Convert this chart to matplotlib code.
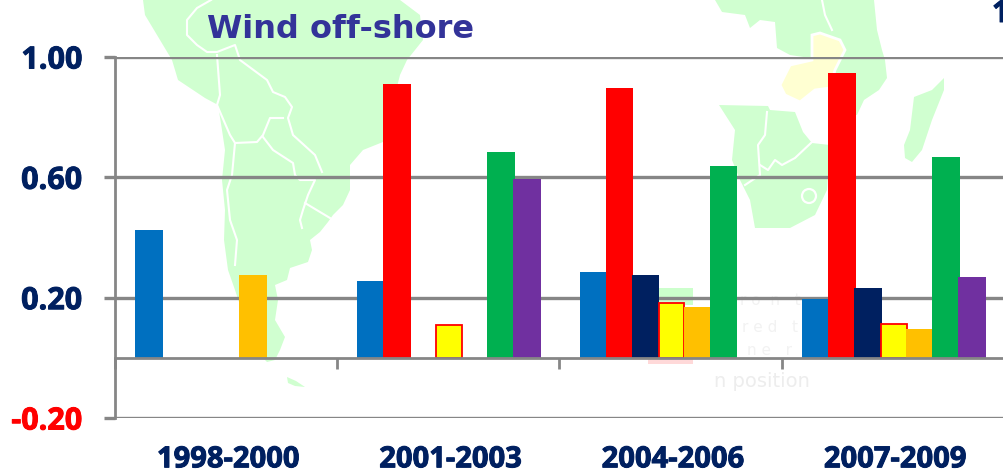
import numpy as np
import matplotlib
matplotlib.use('Agg')
import matplotlib.pyplot as plt
import matplotlib.patheffects as pe
from matplotlib.patches import Polygon, Circle, Rectangle

nan = np.nan
periods = ['1998-2000', '2001-2003', '2004-2006', '2007-2009']
blue = [0.424, 0.255, 0.285, 0.195]
red = [nan, 0.91, 0.897, 0.947]
navy = [nan, nan, 0.275, 0.232]
yellow = [nan, 0.11, 0.183, 0.114]
orange = [0.275, nan, 0.17, 0.095]
green = [nan, 0.683, 0.637, 0.667]
purple = [nan, 0.594, nan, 0.268]

series = [
    (blue, '#0070C0'),
    (red, '#FF0000'),
    (navy, '#002060'),
    (yellow, '#FFFF00'),
    (orange, '#FFC000'),
    (green, '#00B050'),
    (purple, '#7030A0'),
]

y_ticks = [-0.2, 0.2, 0.6, 1.0]
y_labels = ['-0.20', '0.20', '0.60', '1.00']

# map outlines behind the chart, in pixels from the top left
south_america = [(143, 0), (145, 15), (160, 40), (172, 60), (178, 80), (190, 88), (205, 98), (218, 105),
                 (222, 130), (225, 150), (222, 180), (225, 210), (224, 240), (228, 270), (235, 290),
                 (245, 320), (255, 350), (267, 362), (275, 360), (280, 350), (285, 337), (275, 320),
                 (278, 300), (275, 285), (287, 280), (290, 268), (308, 262), (312, 250), (310, 240),
                 (320, 232), (328, 222), (333, 215), (343, 205), (350, 190), (350, 165), (363, 150),
                 (383, 142), (400, 75), (407, 60), (423, 40), (420, 15), (400, 0)]
fuego = [(287, 377), (296, 381), (305, 387), (295, 386), (288, 383)]
africa_north = [(715, 0), (722, 12), (745, 15), (750, 28), (760, 20), (775, 22), (777, 48), (790, 55),
                (810, 58), (830, 90), (835, 115), (857, 115), (864, 100), (879, 90), (887, 78), (885, 60),
                (882, 50), (877, 30), (874, 0)]
africa_south = [(719, 105), (735, 130), (732, 160), (740, 180), (750, 200), (755, 228), (790, 228),
                (815, 215), (827, 190), (830, 145), (812, 143), (803, 132), (795, 112), (770, 110), (768, 106)]
madagascar = [(944, 78), (932, 90), (914, 97), (910, 130), (904, 145), (905, 158), (912, 162), (922, 150),
              (932, 120), (944, 90)]
zambia = [(780, 85), (790, 65), (812, 60), (812, 35), (820, 33), (840, 40), (845, 50), (835, 70),
          (830, 88), (815, 90), (800, 102), (785, 95)]
borders = [
    [(211, 0), (197, 8), (187, 20), (187, 35), (197, 45), (207, 52), (217, 52), (235, 45), (240, 60),
     (267, 80), (273, 92), (285, 97), (292, 107), (288, 118), (293, 135), (315, 155), (322, 172)],
    [(217, 55), (220, 95), (217, 105), (230, 135), (235, 143), (257, 142), (263, 135), (270, 118), (283, 118)],
    [(263, 137), (273, 150), (293, 163), (295, 175), (300, 180), (315, 180), (308, 195), (303, 210),
     (300, 220), (302, 228)],
    [(305, 203), (330, 218)],
    [(235, 143), (232, 175), (227, 190), (230, 220), (237, 240), (235, 265)],
    [(822, 0), (825, 15), (832, 30)],
    [(767, 112), (765, 135), (758, 145), (760, 175), (745, 185)],
    [(812, 142), (795, 158), (782, 165), (775, 160), (768, 170), (760, 165)],
]

fig = plt.figure(figsize=(10.04, 4.73), dpi=100)

bg = fig.add_axes([0, 0, 1, 1], zorder=0)
bg.set_xlim(0, 1004)
bg.set_ylim(473, 0)
bg.axis('off')
for shape in [south_america, fuego, africa_north, africa_south, madagascar]:
    bg.add_patch(Polygon(shape, closed=True, fc='#D0FFD0', ec='none'))
bg.add_patch(Polygon(zambia, closed=True, fc='#FFFFD2', ec='white', lw=2))
for line in borders:
    xs, ys = zip(*line)
    bg.plot(xs, ys, color='white', lw=1.5)
bg.add_patch(Circle((809, 196), 7, fc='none', ec='white', lw=1.6))
bg.add_patch(Rectangle((659, 288), 34, 17, fc='#CCFFCC', ec='none'))
bg.add_patch(Rectangle((648, 358), 45, 6, fc='#FFD9D9', ec='none'))
bg.text(762, 381, 'n position', color='#EDEDED', fontsize=14, ha='center', va='center')
bg.text(770, 300, 'r o  n   t', color='#F2F2F2', fontsize=11, ha='center', va='center')
bg.text(770, 327, 'r e d   t', color='#F2F2F2', fontsize=11, ha='center', va='center')
bg.text(770, 350, 'n e   r', color='#F2F2F2', fontsize=11, ha='center', va='center')

ax = fig.add_axes([115 / 1004, 55 / 473, 889 / 1004, 361 / 473], zorder=1)
ax.patch.set_alpha(0)
ax.set_xlim(0, 4)
ax.set_ylim(-0.2, 1.0)

slot = 0.117
width = 0.124
groups = np.arange(4) + 0.5
for i, (values, color) in enumerate(series):
    x = groups + 0.004 + (i - 3) * slot
    if color == '#FFFF00':
        ax.bar(x, values, width - 0.008, color=color, edgecolor='#FF0000', linewidth=1.3, zorder=3)
    else:
        ax.bar(x, values, width, color=color, zorder=3)

for name in ['top', 'right']:
    ax.spines[name].set_visible(False)
ax.spines['bottom'].set_position(('data', 0))
ax.spines['bottom'].set_zorder(4)
for name in ['left', 'bottom']:
    ax.spines[name].set_color('#868686')
    ax.spines[name].set_linewidth(2)

heavy = [pe.withStroke(linewidth=0.7, foreground='#002060')]

ax.set_yticks(y_ticks)
ax.set_yticklabels(y_labels, fontfamily='Open Sans', fontweight='bold', fontsize=22)
for label, value in zip(ax.get_yticklabels(), y_ticks):
    color = '#FF0000' if value < 0 else '#002060'
    label.set_color(color)
    label.set_path_effects([pe.withStroke(linewidth=0.7, foreground=color)])
ax.tick_params(axis='y', length=8, width=2.4, color='#868686', pad=15.5)
ax.grid(axis='y', color='#868686', linewidth=2.4, zorder=1)
ax.set_axisbelow(True)

ax.set_xticks(groups + 0.009)
ax.set_xticklabels(periods, fontfamily='Open Sans', fontweight='bold', fontsize=21, color='#002060',
                   path_effects=heavy)
ax.tick_params(axis='x', which='major', length=0, pad=63)
ax.set_xticks(np.arange(5), minor=True)
ax.tick_params(axis='x', which='minor', length=8, width=2, color='#868686', direction='out')

fig.text(207 / 1004, 1 - 29 / 473, 'Wind off-shore', color='#333399', fontfamily='DejaVu Sans',
         fontweight='bold', fontsize=23, ha='left', va='center', zorder=5)
fig.text(992 / 1004, 1 - 14 / 473, '1', color='#002060', fontfamily='Open Sans', fontweight='bold',
         fontsize=22, ha='left', va='center', zorder=5, path_effects=heavy)

plt.savefig('out.png', dpi=100)
